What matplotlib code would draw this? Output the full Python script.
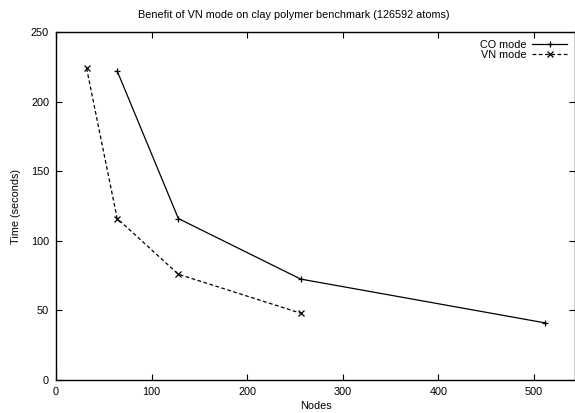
import matplotlib.pyplot as plt

# ---- Data ----
co_nodes = [64, 128, 256, 512]
co_time = [222, 116, 72.5, 41]
vn_nodes = [32, 64, 128, 256]
vn_time = [224, 116, 76, 48]
xticks = [0, 100, 200, 300, 400, 500]
yticks = [0, 50, 100, 150, 200, 250]

plt.rcParams['font.family'] = ['Liberation Sans', 'DejaVu Sans']
plt.rcParams['font.size'] = 7.8

fig = plt.figure(figsize=(5.75, 4.13), dpi=100)
ax = fig.add_axes([56 / 575, 1 - 380 / 413, 1 - 56 / 575, 348 / 413])

ax.plot(co_nodes, co_time, color='black', linewidth=0.9, marker='+',
        markersize=5, markeredgewidth=0.9, label='CO mode')
ax.plot(vn_nodes, vn_time, color='black', linewidth=0.9, linestyle=(0, (3, 2)),
        marker='x', markersize=4, markeredgewidth=0.9, label='VN mode')

ax.set_xlim(0, 543)
ax.set_ylim(0, 250)
ax.set_xticks(xticks)
ax.set_yticks(yticks)
ax.tick_params(direction='in', top=True, right=True, length=4, width=0.8,
               labelsize=7.8, pad=5)
for s in ax.spines.values():
    s.set_linewidth(1.0)

ax.set_xlabel('Nodes', labelpad=3)
ax.set_ylabel('Time (seconds)', labelpad=7)

# title is centred on the full plot area (which runs past the image edge)
fig.text(294 / 575, 1 - 15 / 413,
         'Benefit of VN mode on clay polymer benchmark (126592 atoms)',
         ha='center', va='center', fontsize=7.8)

ax.legend(loc='upper right', frameon=False, markerfirst=False,
          handlelength=3.3, handletextpad=0.5, labelspacing=0.0,
          borderaxespad=0.3, fontsize=7.8)

plt.savefig('out.png', dpi=100)
